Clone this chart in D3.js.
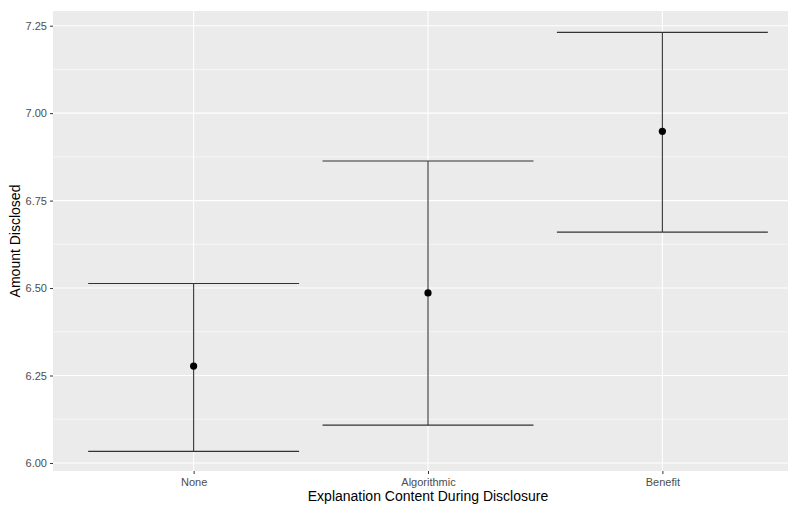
<!DOCTYPE html>
<html lang="en">
<head>
    <meta charset="UTF-8">
    <title>Amount Disclosed</title>
    <script src="https://d3js.org/d3.v7.min.js"></script>
    <style>
        body { margin: 0; background: #fff; }
        svg { display: block; font-family: "Liberation Sans", Arial, sans-serif; }
        .tick text { fill: #4d4d4d; font-size: 11px; }
        .tick line { stroke: #333; }
    </style>
</head>
<body>
<svg width="788" height="508"></svg>
<script>
    // data
    const groups = ["None", "Algorithmic", "Benefit"];
    const means = [6.277, 6.486, 6.948];
    const lower = [6.033, 6.108, 6.660];
    const upper = [6.513, 6.863, 7.231];
    const yTicks = [6.00, 6.25, 6.50, 6.75, 7.00, 7.25];

    const svg = d3.select("svg");
    const panelL = 53, panelR = 803, panelT = 11, panelB = 471;

    // discrete positions 1..3 with ggplot's 0.6 padding
    const x = d3.scaleLinear().domain([0.4, 3.6]).range([panelL, panelR]);
    const y = d3.scaleLinear().domain([5.977, 7.292]).range([panelB, panelT]);

    svg.append("rect")
        .attr("x", panelL).attr("y", panelT)
        .attr("width", panelR - panelL).attr("height", panelB - panelT)
        .attr("fill", "#ebebeb");

    // minor grid
    const minorY = d3.range(yTicks.length - 1).map(i => (yTicks[i] + yTicks[i + 1]) / 2);
    svg.selectAll(".minor-y").data(minorY).enter().append("line")
        .attr("x1", panelL).attr("x2", panelR)
        .attr("y1", d => y(d)).attr("y2", d => y(d))
        .attr("stroke", "#fff").attr("stroke-width", 0.55);

    // major grid
    svg.selectAll(".major-y").data(yTicks).enter().append("line")
        .attr("x1", panelL).attr("x2", panelR)
        .attr("y1", d => y(d)).attr("y2", d => y(d))
        .attr("stroke", "#fff").attr("stroke-width", 1.1);
    svg.selectAll(".major-x").data(groups).enter().append("line")
        .attr("x1", (d, i) => x(i + 1)).attr("x2", (d, i) => x(i + 1))
        .attr("y1", panelT).attr("y2", panelB)
        .attr("stroke", "#fff").attr("stroke-width", 1.1);

    // error bars (width 0.9)
    const g = svg.append("g");
    groups.forEach(function(d, i) {
        const cx = x(i + 1);
        const hw = x(i + 1.45) - cx;
        g.append("line")
            .attr("x1", cx).attr("x2", cx)
            .attr("y1", y(lower[i])).attr("y2", y(upper[i]))
            .attr("stroke", "#333").attr("stroke-width", 1.1);
        [lower[i], upper[i]].forEach(function(v) {
            g.append("line")
                .attr("x1", cx - hw).attr("x2", cx + hw)
                .attr("y1", y(v)).attr("y2", y(v))
                .attr("stroke", "#333").attr("stroke-width", 1.1);
        });
        g.append("circle")
            .attr("cx", cx).attr("cy", y(means[i]))
            .attr("r", 3.6).attr("fill", "#000");
    });

    // axes
    const yAxis = d3.axisLeft(y).tickValues(yTicks)
        .tickFormat(d3.format(".2f")).tickSize(3).tickPadding(3);
    svg.append("g").attr("transform", `translate(${panelL},0)`).call(yAxis)
        .call(a => a.select(".domain").remove());

    const xAxis = d3.axisBottom(x).tickValues([1, 2, 3])
        .tickFormat(d => groups[d - 1]).tickSize(3).tickPadding(4);
    svg.append("g").attr("transform", `translate(0,${panelB})`).call(xAxis)
        .call(a => a.select(".domain").remove());

    svg.append("text")
        .attr("x", x(2)).attr("y", 501)
        .attr("text-anchor", "middle")
        .attr("font-size", 14).attr("fill", "#000")
        .text("Explanation Content During Disclosure");

    svg.append("text")
        .attr("transform", `translate(20,${(panelT + panelB) / 2}) rotate(-90)`)
        .attr("text-anchor", "middle")
        .attr("font-size", 14).attr("fill", "#000")
        .text("Amount Disclosed");
</script>
</body>
</html>
